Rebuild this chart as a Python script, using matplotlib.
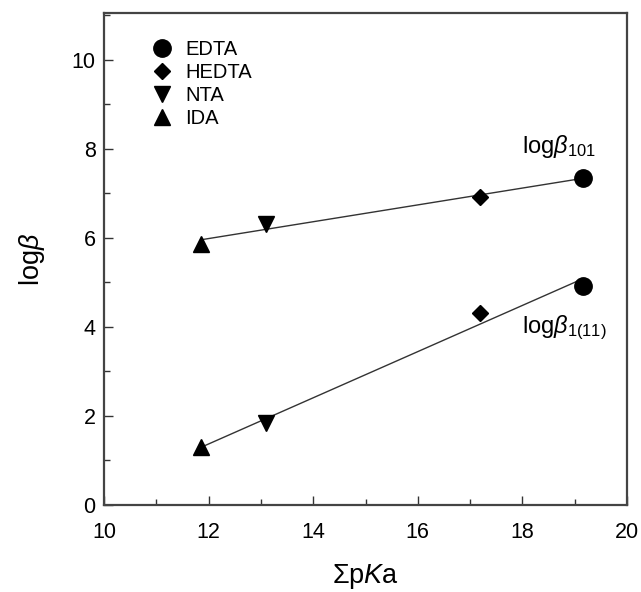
import numpy as np
import matplotlib
matplotlib.use("Agg")
import matplotlib.pyplot as plt
from matplotlib.ticker import MultipleLocator

plt.rcParams['font.family'] = ['Liberation Sans', 'DejaVu Sans']
plt.rcParams['mathtext.fontset'] = 'custom'
plt.rcParams['mathtext.rm'] = 'Liberation Sans'
plt.rcParams['mathtext.it'] = 'Liberation Sans:italic'

# data
ligands = ['EDTA', 'HEDTA', 'NTA', 'IDA']
markers = ['o', 'D', 'v', '^']
sum_pka = [19.16, 17.19, 13.10, 11.85]
log_b101 = [7.35, 6.92, 6.31, 5.87]
log_b111 = [4.92, 4.31, 1.84, 1.31]

fig = plt.figure(figsize=(6.41, 5.92), dpi=100)
ax = fig.add_axes([104 / 641, 87 / 592, 523 / 641, 492 / 592])

# linear fits drawn over the data range
x = np.array(sum_pka)
xs = np.array([x.min(), x.max()])
for yv in (log_b101, log_b111):
    k, b = np.polyfit(x, yv, 1)
    ax.plot(xs, k * xs + b, color='#333333', lw=1.0, zorder=1)

sizes = {'o': 12.5, 'D': 8.6, 'v': 12, '^': 12}
for i, name in enumerate(ligands):
    ms = sizes[markers[i]]
    ax.plot(sum_pka[i], log_b101[i], marker=markers[i], ls='none', color='black',
            ms=ms, label=name, zorder=3)
    ax.plot(sum_pka[i], log_b111[i], marker=markers[i], ls='none', color='black',
            ms=ms, zorder=3)

ax.text(18.0, 7.9, r'log$\mathit{\beta}_{101}$', fontsize=17, ha='left', va='baseline')
ax.text(18.0, 3.85, r'log$\mathit{\beta}_{1(11)}$', fontsize=17, ha='left', va='baseline')

ax.legend(loc='upper left', frameon=False, fontsize=14.5, handlelength=1.0,
          handletextpad=0.65, labelspacing=0.2, borderaxespad=0, borderpad=0,
          bbox_to_anchor=(0.092, 0.945))

ax.set_xlim(10, 20)
ax.set_ylim(0, 11.05)
ax.xaxis.set_major_locator(MultipleLocator(2))
ax.xaxis.set_minor_locator(MultipleLocator(1))
ax.yaxis.set_major_locator(MultipleLocator(2))
ax.yaxis.set_minor_locator(MultipleLocator(1))
ax.tick_params(which='both', direction='in', top=False, right=False,
               labelsize=15.5, color='#333333')
ax.tick_params(axis='x', which='both', pad=12)
ax.tick_params(axis='y', which='both', pad=6)
ax.tick_params(which='major', length=6.5, width=1)
ax.tick_params(which='minor', length=4.5, width=1)
for sp in ax.spines.values():
    sp.set_linewidth(1.6)
    sp.set_color('#444444')

ax.set_xlabel(r'$\Sigma$p$\mathit{K}$a', fontsize=19.5, labelpad=14)
ax.set_ylabel(r'log$\mathit{\beta}$', fontsize=19.5, labelpad=18)

fig.savefig('out.png', dpi=100)
